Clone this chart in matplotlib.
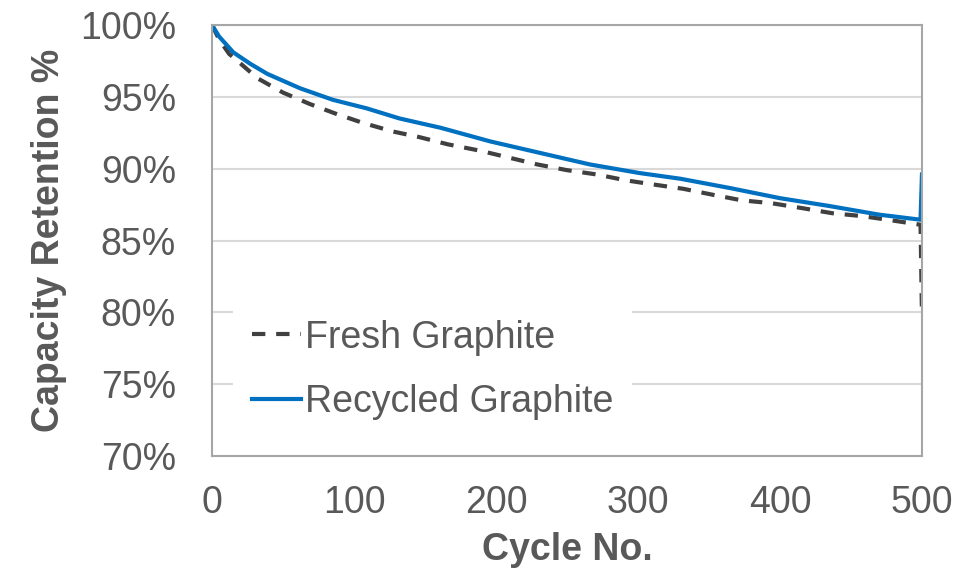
import matplotlib
matplotlib.use('Agg')
from matplotlib import pyplot as plt
import numpy as np

# capacity retention vs cycle number

fresh_cycles = [0, 5, 12, 18, 32, 50, 69, 88, 106, 127, 146, 166, 189, 208, 229, 250,
                271, 291, 311, 332, 352, 373, 394, 416, 437, 458, 479, 499, 500]
fresh_retention = [100.0, 99.0, 98.0, 97.5, 96.3, 95.3, 94.5, 93.8, 93.2, 92.6, 92.2, 91.7,
                   91.25, 90.8, 90.3, 89.9, 89.6, 89.2, 88.9, 88.6, 88.2, 87.8, 87.6, 87.25,
                   86.9, 86.7, 86.4, 86.1, 79.8]

recycled_cycles = [0, 5, 15, 27, 39, 62, 85, 109, 132, 161, 196, 231, 266, 301, 330, 365,
                   400, 435, 470, 499, 500]
recycled_retention = [100.0, 99.2, 98.1, 97.3, 96.6, 95.6, 94.8, 94.2, 93.5, 92.85, 91.9,
                      91.1, 90.3, 89.7, 89.3, 88.65, 87.95, 87.4, 86.8, 86.45, 89.6]

x_ticks = [0, 100, 200, 300, 400, 500]
y_ticks = [70, 75, 80, 85, 90, 95, 100]

plt.rcParams['font.family'] = ['Liberation Sans', 'DejaVu Sans']
text_gray = '#595959'

fig = plt.figure(figsize=(9.78, 5.70), dpi=100)
ax = fig.add_axes([0.2168, 0.2, 0.7259, 0.756])

ax.plot(fresh_cycles, fresh_retention, color='#404040', linewidth=3, linestyle=(0, (3.2, 2.6)),
        label='Fresh Graphite')
ax.plot(recycled_cycles, recycled_retention, color='#0070C0', linewidth=3,
        label='Recycled Graphite')

ax.set_xlim(0, 500)
ax.set_ylim(70, 100)
ax.set_xticks(x_ticks)
ax.set_yticks(y_ticks)
ax.set_yticklabels([str(v) + '%' for v in y_ticks])
ax.tick_params(length=0, labelsize=27, labelcolor=text_gray)
ax.tick_params(axis='y', pad=26)
ax.tick_params(axis='x', pad=21)

ax.grid(axis='y', color='#D9D9D9', linewidth=1.5)
ax.set_axisbelow(True)
for s in ax.spines.values():
    s.set_color('#A6A6A6')
    s.set_linewidth(1.5)

ax.set_xlabel('Cycle No.', fontsize=27, fontweight='bold', color=text_gray, va='center')
ax.set_ylabel('Capacity Retention %', fontsize=27, fontweight='bold', color=text_gray, va='center')
ax.xaxis.set_label_coords(0.5, -0.218)
ax.yaxis.set_label_coords(-0.23, 0.5)

leg = ax.legend(loc='center left', bbox_to_anchor=(0.03, 0.2), fontsize=27, frameon=True,
                framealpha=1, edgecolor='none', fancybox=False, handlelength=1.3,
                handletextpad=0.1, labelspacing=0.76, borderpad=0.5, borderaxespad=0)
for t in leg.get_texts():
    t.set_color(text_gray)

plt.savefig('out.png', dpi=100)
